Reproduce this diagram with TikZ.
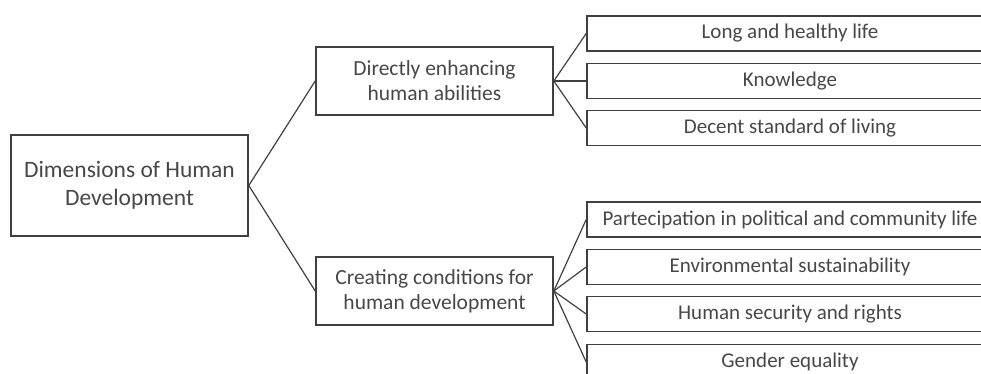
\documentclass[tikz,border=0pt]{standalone}
\usepackage{fontspec}
\setmainfont{Carlito}
\definecolor{ink}{HTML}{404040}
\definecolor{txt}{HTML}{474747}
\begin{document}
\begin{tikzpicture}[x=1pt,y=-1pt,
  box/.style={draw=ink,line width=1.6pt,rectangle,inner sep=0pt,align=center,text=txt},
  rootbox/.style={box,minimum width=237pt,minimum height=101pt,font=\fontsize{23.5}{28}\selectfont},
  midbox/.style={box,minimum width=237pt,minimum height=68pt,font=\fontsize{21.5}{25}\selectfont},
  leafbox/.style={box,minimum width=406pt,minimum height=35pt,font=\fontsize{21}{24}\selectfont},
  link/.style={draw=ink,line width=1.2pt}]
\useasboundingbox (0,0) rectangle (981,374);
\clip (0,0) rectangle (981,374);

% root
\node[rootbox] (root) at (129.5,185.5) {Dimensions of Human\\Development};

% second level
\node[midbox] (direct) at (434.5,81) {Directly enhancing\\human abilities};
\node[midbox] (create) at (434.5,291) {Creating conditions for\\human development};

% leaves of the first branch
\node[leafbox] (life) at (790,33.5) {Long and healthy life};
\node[leafbox] (know) at (790,81) {Knowledge};
\node[leafbox] (living) at (790,128) {Decent standard of living};

% leaves of the second branch
\node[leafbox] (partic) at (790,219.5) {Partecipation in political and community life};
\node[leafbox] (envir) at (790,267) {Environmental sustainability};
\node[leafbox] (secur) at (790,314) {Human security and rights};
\node[leafbox] (gender) at (790,362) {Gender equality};

% connectors
\draw[link] (root.east) -- (direct.west);
\draw[link] (root.east) -- (create.west);
\foreach \n in {life,know,living} \draw[link] (direct.east) -- (\n.west);
\foreach \n in {partic,envir,secur,gender} \draw[link] (create.east) -- (\n.west);
\end{tikzpicture}
\end{document}
